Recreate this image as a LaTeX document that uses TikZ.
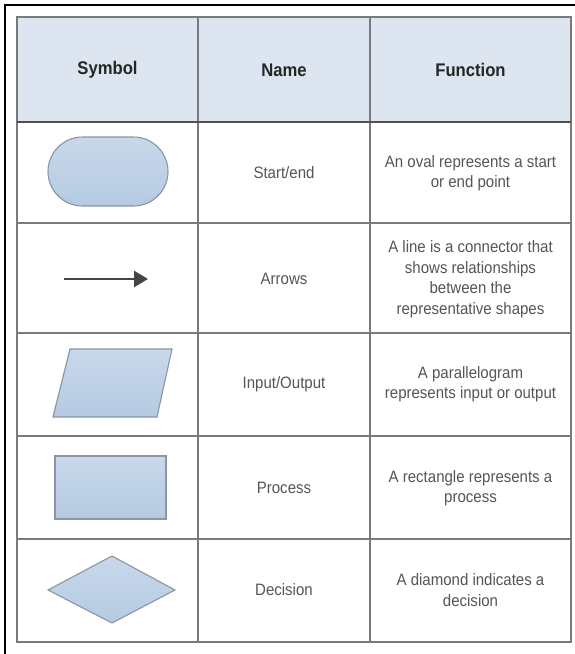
\documentclass[tikz,border=0pt]{standalone}
\usepackage{fontspec}
\setmainfont{Liberation Sans}[FakeStretch=0.91]
\usetikzlibrary{arrows.meta}
\definecolor{headfill}{HTML}{DCE5F0}
\definecolor{gridline}{HTML}{7A7A7A}
\definecolor{headline}{HTML}{505050}
\definecolor{textgray}{HTML}{555555}
\definecolor{headtext}{HTML}{262626}
\definecolor{shapetop}{HTML}{C8D8EA}
\definecolor{shapebot}{HTML}{B5CAE2}
\definecolor{shapeedge}{HTML}{8A96A3}
\definecolor{arrowgray}{HTML}{454545}
\begin{document}
\begin{tikzpicture}[x=1pt,y=-1pt,
  headcell/.style={align=center,text=headtext,font=\fontsize{18.3}{22}\selectfont\bfseries},
  bodycell/.style={align=center,text=textgray,font=\fontsize{16.5}{20.5}\selectfont},
  symshape/.style={draw=shapeedge,line width=1.1pt,top color=shapetop,bottom color=shapebot},
  gridrule/.style={draw=gridline,line width=1.2pt}]
\useasboundingbox (0,0) rectangle (575,654);
\fill[white] (0,0) rectangle (575,654);
% outer frame (top and left edges)
\draw[line width=2pt,black] (5,662) -- (5,5) -- (583,5);
% header band
\fill[headfill] (17,17) rectangle (571,122);
% table rules
\draw[gridrule] (17,17) rectangle (571,642);
\draw[gridrule] (198,17) -- (198,642);
\draw[gridrule] (370,17) -- (370,642);
\draw[draw=headline,line width=1.5pt] (17,122) -- (571,122);
\foreach \yy in {223,333,436,539} \draw[gridrule] (17,\yy) -- (571,\yy);
% header texts
\node[headcell] (hsym) at (107.5,70) {Symbol};
\node[headcell] (hname) at (284,70) {Name};
\node[headcell] (hfun) at (470.5,70) {Function};
% start/end row
\node[symshape,rounded corners=34.5pt,minimum width=120pt,minimum height=69pt,inner sep=0pt] (oval) at (108,171.5) {};
\node[bodycell] (n1) at (284,173) {Start/end};
\node[bodycell] (f1) at (470.5,173) {An oval represents a start\\or end point};
% arrows row
\coordinate (arrS) at (64,279);
\coordinate (arrE) at (148,279);
\draw[arrowgray,line width=2.8pt,-{Triangle[length=14pt,width=16pt]}] (arrS) -- (arrE);
\node[bodycell] (n2) at (284,279) {Arrows};
\node[bodycell] (f2) at (470.5,279) {A line is a connector that\\shows relationships\\between the\\representative shapes};
% input/output row
\path[symshape] (70,349) -- (172,349) -- (157,417) -- (53,417) -- cycle;
\node[bodycell] (n3) at (284,384) {Input/Output};
\node[bodycell] (f3) at (470.5,384) {A parallelogram\\represents input or output};
% process row
\node[symshape,minimum width=111pt,minimum height=63pt,inner sep=0pt] (proc) at (110.5,487.5) {};
\node[bodycell] (n4) at (284,488) {Process};
\node[bodycell] (f4) at (470.5,488) {A rectangle represents a\\process};
% decision row
\path[symshape] (112,556) -- (175,590) -- (112,623) -- (48,590) -- cycle;
\node[bodycell] (n5) at (284,590) {Decision};
\node[bodycell] (f5) at (470.5,590) {A diamond indicates a\\decision};
\end{tikzpicture}
\end{document}
